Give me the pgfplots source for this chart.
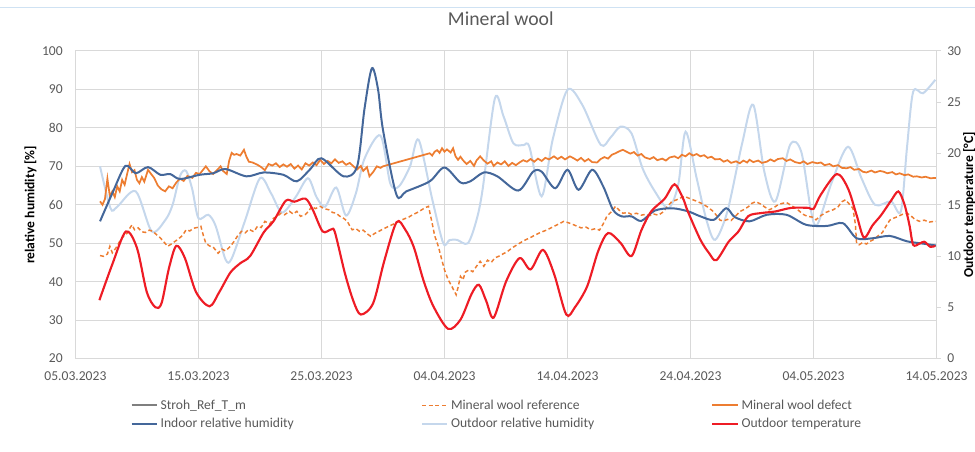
\documentclass[border=0pt]{standalone}
\usepackage{fontspec}
\setmainfont{Carlito}
\usepackage{pgfplots}
\pgfplotsset{compat=1.18}
\definecolor{textgray}{HTML}{595959}
\definecolor{gridgray}{HTML}{D9D9D9}
\definecolor{wool}{HTML}{ED7D31}
\definecolor{indoor}{HTML}{44679A}
\definecolor{outdoorrh}{HTML}{C5D7EC}
\definecolor{temp}{HTML}{EE1C25}
\definecolor{stroh}{HTML}{7F7F7F}
\definecolor{topline}{HTML}{CFE2F3}
\begin{document}
\begin{tikzpicture}
\pgfplotsset{
  common/.style={scale only axis, width=646.5pt, height=231pt, xmin=0, xmax=70,
    /pgf/number format/assume math mode=true,
    ticklabel style={font=\fontsize{10.2}{12}\selectfont, text=textgray}},
}
\begin{axis}[common, name=main,
  ymin=20, ymax=100, ytick={20,30,...,100},
  xtick={0,10,...,70},
  xticklabels={05.03.2023,15.03.2023,25.03.2023,04.04.2023,14.04.2023,24.04.2023,04.05.2023,14.05.2023},
  grid=major, major grid style={gridgray, line width=0.75pt},
  axis line style={gridgray, line width=0.75pt},
  tick style={draw=none},
  xticklabel style={yshift=-6.5pt},
  yticklabel style={xshift=-6pt},
  ylabel={relative humidity [\%]},
  ylabel style={at={(axis description cs:-0.0522,0.5)}, anchor=center, font=\fontsize{10.2}{12}\selectfont\bfseries, text=black},
  title={Mineral wool},
  title style={at={(axis description cs:0.494,1.078)}, anchor=center, font=\fontsize{14.8}{17}\selectfont, text=textgray},
]
% Outdoor relative humidity
\addplot[outdoorrh, line width=1.5pt, smooth] coordinates {
(2.0,70) (2.85,59.1) (3.4,59.5) (4.9,63.5) (6.2,53.1) (7.3,56) (7.9,60) (8.5,67.5) (9.0,68.8)
(9.5,64) (10.0,56.5) (10.8,57.4) (11.4,54.5) (12.2,45.8) (12.7,46.0) (13.8,56) (15.0,66.9)
(15.9,63) (16.8,58.0) (17.9,62) (18.9,66.9) (19.6,62) (20.3,59.5) (21.2,64.5) (22.0,57.2)
(22.8,63) (23.5,72) (24.8,78) (25.6,65.5) (26.3,64.8) (27.2,70) (27.9,76.9) (29.0,61.5)
(29.9,50) (30.4,50.8) (31.0,50.9) (31.9,50) (32.6,56) (33.1,64) (34.1,87.7) (34.8,83)
(35.6,76) (36.4,75.5) (36.9,75.1) (37.9,62.2) (38.8,77) (40.0,89.9) (41.2,86) (42.7,75.6)
(43.5,77.5) (44.3,80.3) (45.2,78.6) (46.1,69.5) (47.1,63.5) (48.2,59.1) (49.0,65.2) (49.6,79)
(50.5,66.9) (51.3,56) (52.0,50.9) (53.0,58.3) (54.2,76) (55.1,86) (56.0,68.6) (56.9,60.9)
(58.1,75.6) (59.0,73.8) (59.8,58.3) (60.3,54.8) (61.5,66) (62.8,75.1) (63.9,66.9) (65.0,60)
(66.3,60.9) (67.1,58.3) (67.6,75) (68.1,89.4) (68.9,89) (69.9,92.5)
};
% Mineral wool reference
\addplot[wool, line width=1.1pt, dash pattern=on 3pt off 2pt] coordinates {
(2.0,46.8) (2.3,46.6) (2.6,47.2) (2.8,49.2) (3.0,47.5) (3.3,48.8) (3.6,50.5) (3.9,51.8) (4.2,52.6)
(4.4,53.8) (4.6,54.8) (4.8,53.5) (5.1,54.0) (5.4,53.0) (5.7,52.8) (6.0,53.4) (6.3,53.1) (6.6,52.2)
(6.9,51.4) (7.2,50.3) (7.5,49.2) (7.8,49.8) (8.1,50.5) (8.4,51.2) (8.7,52.0) (9.0,53.5) (9.3,53.2)
(9.6,53.9) (9.9,54.1) (10.2,54.4) (10.4,52.0) (10.6,50.0) (10.9,49.3) (11.2,49.0) (11.6,47.4)
(11.9,48.5) (12.2,48.0) (12.6,49.2) (12.9,50.5) (13.2,52.0) (13.5,53.1) (13.8,52.7) (14.1,53.6)
(14.5,53.0) (14.8,54.4) (15.1,54.1) (15.4,55.7) (15.8,55.0) (16.1,56.5) (16.4,57.0) (16.7,57.8)
(17.0,57.4) (17.4,58.3) (17.7,57.6) (18.0,58.3) (18.3,57.0) (18.7,57.5) (19.0,58.5) (19.2,59.6)
(19.5,59.0) (19.9,59.6) (20.2,59.0) (20.6,58.7) (20.9,58.0) (21.2,57.8) (21.5,57.0) (21.8,56.5)
(22.1,55.7) (22.3,54.5) (22.5,53.5) (22.8,53.8) (23.1,53.1) (23.4,53.4) (23.7,52.5) (24.0,51.8)
(24.3,52.5) (24.6,53.0) (24.9,53.5) (25.2,54.0) (25.6,54.6) (26.0,55.2) (26.3,55.7) (26.7,56.3)
(27.1,56.8) (27.4,57.4) (27.8,58.0) (28.1,58.6) (28.4,59.2) (28.7,59.6) (29.0,55.2) (29.2,52.0)
(29.5,49.2) (29.8,45.5) (30.0,43.1) (30.3,40.5) (30.6,38.8) (30.8,37.5) (30.95,36.6) (31.1,38.5)
(31.3,41.4) (31.5,40.5) (31.7,42.5) (32.0,43.1) (32.3,42.6) (32.6,44.0) (32.9,45.3) (33.2,44.0)
(33.5,45.6) (33.8,45.0) (34.1,46.2) (34.4,46.6) (34.8,47.3) (35.1,47.8) (35.5,48.8) (35.9,49.6)
(36.2,50.2) (36.6,50.9) (37.0,51.5) (37.4,52.2) (37.8,52.8) (38.2,53.3) (38.6,53.9) (38.9,54.4)
(39.3,55.0) (39.7,55.7) (40.1,55.3) (40.5,54.8) (40.8,54.4) (41.1,54.0) (41.5,54.2) (41.9,53.5)
(42.3,53.8) (42.6,53.4) (42.9,55.0) (43.2,57.0) (43.6,58.3) (43.9,59.6) (44.2,58.6) (44.5,57.8)
(44.9,58.0) (45.2,57.5) (45.6,57.8) (46.0,57.3) (46.3,57.5) (46.7,57.2) (47.0,57.6) (47.4,57.3)
(47.8,58.2) (48.1,59.5) (48.5,60.9) (48.8,61.2) (49.2,61.8) (49.5,62.2) (49.8,61.8) (50.2,61.3)
(50.6,60.8) (51.0,60.2) (51.4,59.4) (51.8,58.4) (52.1,57.3) (52.4,56.0) (52.7,55.8) (53.0,56.2)
(53.3,55.9) (53.7,57.2) (54.0,58.2) (54.3,58.7) (54.7,59.5) (55.0,60.4) (55.3,60.8) (55.7,60.2)
(56.0,59.5) (56.4,58.7) (56.8,59.3) (57.1,60.0) (57.5,60.4) (57.8,60.6) (58.1,60.0) (58.4,59.4)
(58.8,58.5) (59.1,57.6) (59.5,57.0) (59.9,56.8) (60.2,56.1) (60.6,57.2) (61.0,58.0) (61.3,58.4)
(61.6,58.7) (62.0,59.5) (62.3,60.8) (62.6,61.3) (62.9,60.2) (63.2,59.1) (63.4,55.0) (63.5,50.0)
(63.7,49.6) (64.0,50.2) (64.3,49.8) (64.6,50.5) (64.9,51.0) (65.2,51.8) (65.6,52.8) (65.9,54.5)
(66.2,56.0) (66.5,56.5) (66.9,57.0) (67.2,57.5) (67.6,57.8) (67.9,57.2) (68.2,56.3) (68.6,55.7)
(69.0,56.0) (69.4,55.5) (69.8,55.7) (70.0,55.7)
};
% Mineral wool defect
\addplot[wool, line width=1.3pt] coordinates {
(2.0,60.9) (2.2,60.0) (2.4,61.5) (2.6,66.8) (2.8,62.2) (3.0,63.5) (3.2,62.0) (3.4,64.8) (3.6,63.5)
(3.8,66.5) (4.0,65.2) (4.2,68.0) (4.4,70.6) (4.6,68.5) (4.8,69.0) (5.0,66.5) (5.2,65.6) (5.4,67.2)
(5.6,66.0) (5.9,69.1) (6.2,67.8) (6.4,67.0) (6.7,65.0) (7.0,64.0) (7.3,63.5) (7.6,64.8) (7.9,64.3)
(8.2,65.8) (8.5,66.8) (8.8,66.2) (9.1,67.5) (9.5,67.0) (9.8,68.3) (10.1,68.0) (10.4,69.2) (10.6,70.0)
(10.9,68.7) (11.2,68.0) (11.5,69.0) (11.8,70.0) (12.0,68.8) (12.3,68.0) (12.5,71.5) (12.7,73.5)
(12.9,73.0) (13.1,73.2) (13.4,72.8) (13.7,74.3) (13.9,72.5) (14.1,71.2) (14.4,71.0) (14.8,70.4)
(15.1,69.8) (15.4,69.0) (15.7,70.6) (16.0,70.2) (16.3,70.8) (16.6,69.8) (16.9,70.5) (17.2,69.9)
(17.5,70.6) (17.8,69.4) (18.1,70.2) (18.4,69.2) (18.7,70.8) (19.0,70.2) (19.3,71.0) (19.6,70.3)
(19.9,71.7) (20.2,70.6) (20.5,71.4) (20.8,70.8) (21.1,71.8) (21.4,70.9) (21.7,71.3) (22.0,70.4)
(22.3,70.9) (22.6,70.0) (22.9,69.2) (23.2,70.1) (23.4,68.8) (23.7,69.8) (23.9,67.4) (24.2,68.5)
(24.5,70.0) (24.8,69.6) (25.0,70.0) (28.8,73.4) (29.0,72.8) (29.2,73.8) (29.4,74.2) (29.6,73.5)
(29.8,74.7) (30.0,73.8) (30.2,74.4) (30.5,73.6) (30.7,74.7) (30.9,72.6) (31.1,71.7) (31.3,72.5)
(31.5,71.6) (31.8,70.6) (32.1,71.4) (32.4,70.1) (32.6,71.5) (32.9,72.6) (33.2,71.5) (33.5,70.7)
(33.8,71.3) (34.0,70.1) (34.3,71.0) (34.6,70.5) (34.9,71.3) (35.2,70.1) (35.5,70.9) (35.8,70.3)
(36.1,71.0) (36.4,71.6) (36.7,71.2) (37.0,71.9) (37.3,71.2) (37.6,72.0) (37.9,71.4) (38.2,72.2)
(38.5,71.8) (38.9,72.6) (39.2,71.9) (39.5,72.5) (39.8,71.8) (40.2,72.6) (40.5,72.1) (40.8,71.5)
(41.1,72.2) (41.4,71.3) (41.7,71.9) (42.0,71.1) (42.4,71.0) (42.7,71.9) (43.0,72.4) (43.3,72.0)
(43.6,73.0) (43.9,73.4) (44.2,73.9) (44.5,74.3) (44.8,73.8) (45.1,73.3) (45.4,73.7) (45.7,72.8)
(46.0,73.2) (46.3,72.3) (46.7,71.9) (47.0,72.4) (47.3,71.6) (47.7,72.0) (48.0,71.5) (48.3,72.3)
(48.7,72.6) (49.0,72.1) (49.3,73.0) (49.6,72.6) (49.9,73.4) (50.2,72.8) (50.5,73.2) (50.8,72.6)
(51.1,72.9) (51.4,72.2) (51.7,72.5) (52.0,71.8) (52.4,71.9) (52.7,71.2) (53.0,71.6) (53.3,70.9)
(53.7,71.3) (54.0,70.8) (54.3,71.5) (54.6,71.0) (54.8,71.7) (55.1,71.1) (55.5,71.5) (55.8,70.9)
(56.2,71.2) (56.5,71.8) (56.8,71.3) (57.1,71.9) (57.5,72.1) (57.8,71.4) (58.1,71.8) (58.5,71.1)
(58.9,70.8) (59.2,71.3) (59.5,70.6) (59.9,71.1) (60.3,70.8) (60.6,71.0) (60.9,70.3) (61.3,70.6)
(61.6,70.0) (62.0,70.3) (62.3,69.6) (62.7,69.5) (63.0,69.8) (63.3,69.1) (63.7,69.3) (64.0,68.6)
(64.3,68.4) (64.7,68.9) (65.0,68.4) (65.4,68.8) (65.7,68.6) (66.0,68.2) (66.4,68.5) (66.7,67.9)
(67.0,68.2) (67.4,67.7) (67.7,67.9) (68.1,67.3) (68.4,67.4) (68.8,67.1) (69.1,67.3) (69.5,66.9)
(70.0,67.0)
};
% Indoor relative humidity
\addplot[indoor, line width=1.5pt, smooth] coordinates {
(2.0,55.7) (3.0,63) (4.06,70.1) (4.9,68.2) (5.9,69.8) (6.9,67.8) (7.7,68) (8.5,66.7) (10.1,67.8)
(11.2,68.2) (12.2,69.3) (13.9,67.4) (15.3,68.4) (16.9,67.8) (18.0,66.1) (19.1,69.3) (20.0,72.1)
(21.8,67.4) (22.9,70) (23.5,85) (24.1,95.5) (24.6,90) (25.0,79.5) (26.1,62.6) (26.9,63.5)
(28.8,66.1) (30.0,69.7) (31.3,65.8) (32.1,66.1) (33.2,68.4) (34.3,67.4) (36.0,63.7) (37.2,68.6)
(37.9,68.6) (39.0,64.3) (40.0,69.1) (40.9,63.9) (42.0,69.1) (42.9,64.8) (43.7,58.7) (44.4,57)
(45.2,57) (46.0,55.8) (47.1,58.5) (48.5,59.1) (49.8,58.3) (50.8,57) (51.9,56.1) (52.9,59.1)
(53.6,56.8) (54.8,55.7) (56.2,57.4) (57.8,57.4) (59.4,54.8) (61.1,54.5) (62.4,55.2) (63.5,51.3)
(64.8,51.3) (66.2,51.9) (67.6,50.5) (68.9,49.9) (70,49.4)
};
\end{axis}
\begin{axis}[common,
  ymin=0, ymax=30, ytick={0,5,...,30},
  axis y line*=right, axis x line=none,
  ytick style={gridgray, line width=0.75pt}, tick align=outside, major tick length=3pt,
  axis line style={gridgray, line width=0.75pt},
  yticklabel style={xshift=1.5pt},
  ylabel={Outdoor temperature [°C]},
  ylabel style={at={(axis description cs:1.038,0.5)}, anchor=center, rotate=0, font=\fontsize{10.2}{12}\selectfont\bfseries, text=black},
  legend columns=3,
  legend cell align=left,
  legend image code/.code={\draw[#1] (0pt,0pt) -- (19pt,0pt);},
  legend style={at={(axis description cs:0.0592,-0.115)}, anchor=north west, draw=none, fill=none,
    font=\fontsize{10.2}{12}\selectfont, text=textgray,
    /tikz/every even column/.append style={column sep=23.5pt}, row sep=1.5pt},
]
\addlegendimage{stroh, line width=1.5pt}
\addlegendentry{\makebox[170pt][l]{Stroh\_Ref\_T\_m}}
\addlegendimage{wool, line width=1.1pt, dash pattern=on 3pt off 2pt}
\addlegendentry{\makebox[170pt][l]{Mineral wool reference}}
\addlegendimage{wool, line width=1.5pt}
\addlegendentry{\makebox[170pt][l]{Mineral wool defect}}
\addlegendimage{indoor, line width=1.5pt}
\addlegendentry{\makebox[170pt][l]{Indoor relative humidity}}
\addlegendimage{outdoorrh, line width=1.5pt}
\addlegendentry{\makebox[170pt][l]{Outdoor relative humidity}}
\addplot[temp, line width=1.6pt, smooth] coordinates {
(1.95,5.7) (3.0,9.2) (4.1,12.4) (5.0,10.8) (5.8,6.5) (6.5,5.0) (7.0,5.4) (7.6,8.8) (8.2,11.0)
(8.9,9.8) (9.8,6.5) (10.9,5.1) (11.7,6.5) (12.6,8.4) (13.4,9.3) (14.2,10.0) (15.3,12.3) (16.1,13.4)
(17.1,15.4) (17.8,15.3) (18.7,15.6) (19.3,14.5) (20.1,12.4) (20.8,12.6) (21.1,12.3) (21.9,8.35)
(22.6,5.6) (23.2,4.3) (24.2,5.4) (25.1,9.5) (26.1,13.3) (26.8,12.6) (27.5,10.9) (28.3,7.6) (29.1,5.1)
(30.3,2.9) (31.3,3.8) (32.2,6.3) (32.8,7.2) (33.4,5.6) (34.0,4.0) (35.0,7.5) (36.1,9.8) (37.0,8.7)
(38.0,10.6) (38.9,8.3) (39.9,4.3) (40.6,5.0) (41.6,7.05) (42.5,10.5) (43.3,12.25) (44.3,11.3)
(45.2,10.0) (46.0,12.5) (46.8,14.35) (47.9,15.6) (48.7,17.0) (49.4,15.6) (49.8,14.3) (50.8,11.6)
(51.5,10.3) (52.1,9.6) (53.1,11.4) (53.9,12.4) (54.7,13.9) (55.8,14.2) (56.9,14.35) (58.2,14.7)
(59.6,14.7) (60.0,14.6) (60.6,16.0) (61.9,18.0) (62.8,16.6) (63.5,14.0) (64.1,11.8) (64.8,13.0)
(65.5,14.0) (66.3,15.4) (66.9,16.3) (67.4,15.0) (67.8,13.0) (68.1,11.1) (68.6,11.2) (69.0,11.4)
(69.5,10.9) (69.9,11.0)
};
\addlegendentry{Outdoor temperature}
\end{axis}
\pgfresetboundingbox
\path ([xshift=-56.25pt,yshift=-69.75pt]main.south west) rectangle ([xshift=28.5pt,yshift=38.25pt]main.north east);
\draw[topline, line width=0.75pt] ([xshift=-56.25pt,yshift=32.25pt]main.north west) -- ([xshift=28.5pt,yshift=32.25pt]main.north east);
\end{tikzpicture}
\end{document}
